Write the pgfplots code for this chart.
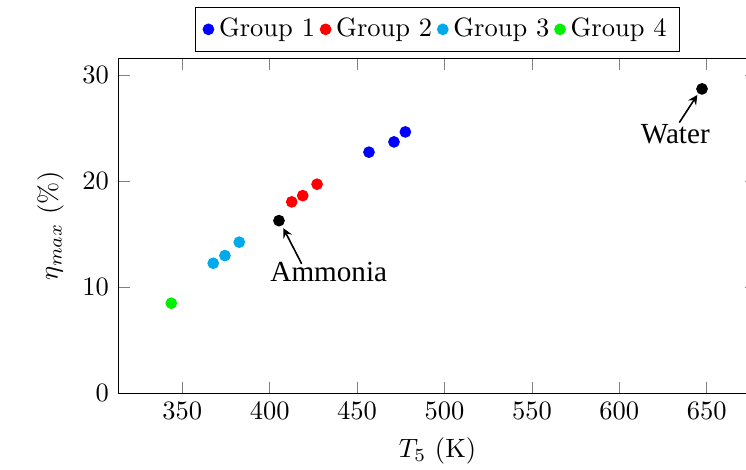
\documentclass[border=0pt]{standalone}
\usepackage{pgfplots}
\pgfplotsset{compat=1.18}
\usepackage{fontspec}
\newfontfamily\timesfont{Liberation Serif}
\definecolor{grpthree}{RGB}{0,170,235}
\definecolor{grpfour}{RGB}{0,240,0}
\begin{document}
\begin{tikzpicture}
\begin{axis}[
  scale only axis, width=240.9pt, height=126.3pt,
  xmin=313.4, xmax=678.6, ymin=0, ymax=31.58,
  xtick={350,400,450,500,550,600,650}, ytick={0,10,20,30},
  xlabel={$T_5$ (K)}, ylabel={$\eta_{max}$ (\%)},
  legend columns=4,
  legend style={at={(0.5,1.02)}, anchor=south, draw=black},
]
\addplot[only marks, mark=*, color=blue] coordinates {(456.8,22.74) (471.1,23.71) (477.6,24.65)};
\addlegendentry{Group 1}
\addplot[only marks, mark=*, color=red] coordinates {(412.6,18.05) (418.9,18.64) (427.1,19.72)};
\addlegendentry{Group 2}
\addplot[only marks, mark=*, color=grpthree] coordinates {(367.7,12.26) (374.4,12.98) (382.6,14.25)};
\addlegendentry{Group 3}
\addplot[only marks, mark=*, color=grpfour] coordinates {(343.7,8.49)};
\addlegendentry{Group 4}
\addplot[only marks, mark=*, color=black, forget plot] coordinates {(405.3,16.28) (647.3,28.71)};
\draw[-stealth, semithick] (axis cs:418.3,12.2) -- (axis cs:407.8,15.57);
\node[anchor=base, inner sep=0pt] at (axis cs:433.8,10.53) {\timesfont\fontsize{11}{13}\selectfont Ammonia};
\draw[-stealth, semithick] (axis cs:634.3,25.53) -- (axis cs:644.6,28.14);
\node[anchor=base, inner sep=0pt] at (axis cs:632.0,23.58) {\timesfont\fontsize{11}{13}\selectfont Water};
\coordinate (bbSW) at (rel axis cs:-0.1853,-0.2291);
\coordinate (bbNE) at (rel axis cs:0.9832,1.1747);
\end{axis}
\pgfresetboundingbox
\path[use as bounding box] (bbSW) rectangle (bbNE);
\end{tikzpicture}
\end{document}
